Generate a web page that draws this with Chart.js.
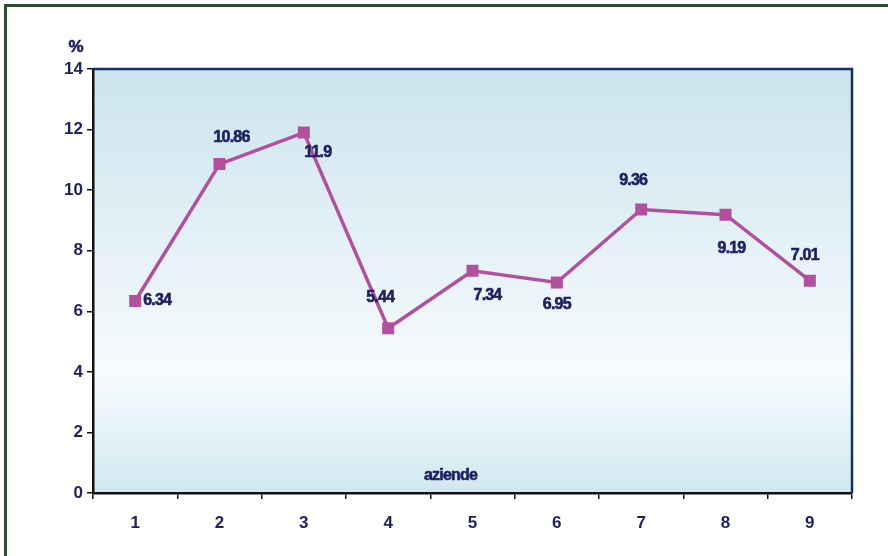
<!DOCTYPE html>
<html>
<head>
<meta charset="utf-8">
<script src="https://cdn.jsdelivr.net/npm/chart.js@4.4.0/dist/chart.umd.min.js"></script>
<style>
  html, body { margin: 0; padding: 0; background: #fff; overflow: hidden; }
  #wrap { position: relative; width: 888px; height: 556px; }
  #frame { position: absolute; left: 4px; top: 4px; width: 900px; height: 600px;
           border-left: 3px solid #2b4f2e; border-top: 3px solid #2b4f2e; pointer-events: none; }
</style>
</head>
<body>
<div id="wrap">
  <canvas id="myChart" width="888" height="556"></canvas>
  <div id="frame"></div>
</div>
<script>
// data
var aziende = ['1', '2', '3', '4', '5', '6', '7', '8', '9'];
var percentuali = [6.34, 10.86, 11.9, 5.44, 7.34, 6.95, 9.36, 9.19, 7.01];
var yTicks = [0, 2, 4, 6, 8, 10, 12, 14];

// where each value label sits relative to its point (dx, dy)
var labelOffsets = [[27, 0], [12, -27], [14, 20], [-8, -31], [15, 25], [0, 22], [-8, -29], [6, 34], [-5, -25]];

var navy = '#1f2163';

function heavyText(c, txt, x, y) {
    c.lineWidth = 0.6;
    c.strokeStyle = navy;
    c.strokeText(txt, x, y);
    c.fillText(txt, x, y);
}

var plotDeco = {
    id: 'plotDeco',
    beforeDatasetsDraw: function (chart) {
        var a = chart.chartArea, c = chart.ctx;
        var g = c.createLinearGradient(0, a.top, 0, a.bottom);
        g.addColorStop(0, '#cbe4ed');
        g.addColorStop(0.72, '#f7fbfd');
        g.addColorStop(1, '#d0e8f0');
        c.save();
        c.globalCompositeOperation = 'destination-over';
        c.fillStyle = g;
        c.fillRect(a.left, a.top, a.right - a.left, a.bottom - a.top);
        c.restore();
        c.save();
        c.strokeStyle = '#0f3168';
        c.lineWidth = 2.5;
        c.beginPath();
        c.moveTo(a.left, a.top);
        c.lineTo(a.right, a.top);
        c.lineTo(a.right, a.bottom);
        c.stroke();
        c.restore();
    },
    afterDatasetsDraw: function (chart) {
        var c = chart.ctx;
        var meta = chart.getDatasetMeta(0);
        c.save();
        c.font = 'bold 16px "Liberation Sans", Arial, sans-serif';
        c.letterSpacing = '-0.8px';
        c.fillStyle = navy;
        c.textBaseline = 'middle';
        meta.data.forEach(function (pt, i) {
            var o = labelOffsets[i];
            c.textAlign = i === 0 ? 'left' : 'center';
            heavyText(c, String(percentuali[i]), pt.x + o[0] - (i === 0 ? 19 : 0), pt.y + o[1]);
        });
        c.textAlign = 'center';
        heavyText(c, 'aziende', (chart.chartArea.left + chart.chartArea.right) / 2 - 22, chart.chartArea.bottom - 17);
        c.font = 'bold 17px "Liberation Sans", Arial, sans-serif';
        c.letterSpacing = '0px';
        heavyText(c, '%', 76, 47);
        c.restore();
    }
};

var ctx = document.getElementById('myChart').getContext('2d');
var myChart = new Chart(ctx, {
    type: 'line',
    data: {
        labels: aziende,
        datasets: [{
            data: percentuali,
            borderColor: '#b3509e',
            backgroundColor: '#b3509e',
            borderWidth: 3.5,
            pointStyle: 'rect',
            pointRadius: 6,
            tension: 0
        }]
    },
    options: {
        responsive: false,
        animation: false,
        layout: { padding: { top: 69, right: 36, left: 0, bottom: 0 } },
        plugins: { legend: { display: false }, tooltip: { enabled: false } },
        scales: {
            x: {
                offset: true,
                grid: { offset: true, drawOnChartArea: false, color: '#111', tickLength: 6, lineWidth: 1.5 },
                border: { color: '#111', width: 2.5 },
                ticks: { color: navy, padding: 14, font: { family: '"Liberation Sans", Arial', size: 17, weight: 'bold' } },
                afterFit: function (s) { s.height = 63; }
            },
            y: {
                min: 0,
                max: 14,
                afterBuildTicks: function (s) { s.ticks = yTicks.map(function (v) { return { value: v }; }); },
                grid: { drawOnChartArea: false, color: '#111', tickLength: 6, lineWidth: 1.5 },
                border: { color: '#111', width: 2.5 },
                ticks: { color: navy, padding: 4, font: { family: '"Liberation Sans", Arial', size: 17, weight: 'bold' } },
                afterFit: function (s) { s.width = 93; }
            }
        }
    },
    plugins: [plotDeco]
});
</script>
</body>
</html>
